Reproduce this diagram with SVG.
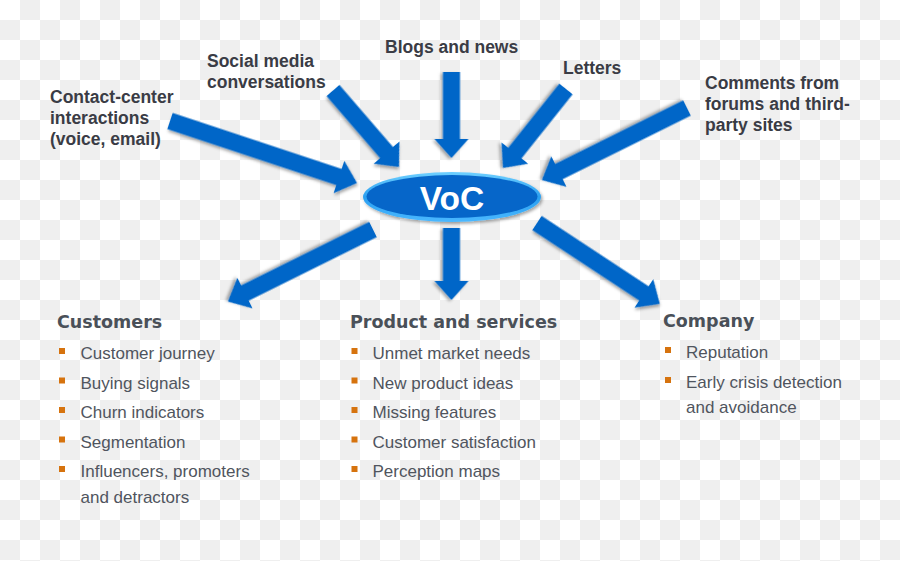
<svg xmlns="http://www.w3.org/2000/svg" width="900" height="561" viewBox="0 0 900 561">
<defs>
<pattern id="chk" width="40" height="40" patternUnits="userSpaceOnUse">
<rect width="40" height="40" fill="#ffffff"/>
<rect x="20" y="0" width="20" height="20" fill="#efefef"/>
<rect x="0" y="20" width="20" height="20" fill="#efefef"/>
</pattern>
<filter id="sh" x="-20%" y="-20%" width="140%" height="140%">
<feDropShadow dx="1.5" dy="2" stdDeviation="1.5" flood-color="#000" flood-opacity="0.35"/>
</filter>
<linearGradient id="rim" x1="0" y1="0" x2="0" y2="1">
<stop offset="0" stop-color="#6fd0ff"/>
<stop offset="0.5" stop-color="#2a9ff0"/>
<stop offset="1" stop-color="#4ab8ff"/>
</linearGradient>
</defs>
<style>
.arrow{fill:#0566c8;filter:url(#sh);}
.lbl{font-family:"Liberation Sans",Arial,sans-serif;font-weight:bold;font-size:17.5px;fill:#3a3c45;}
.hd{font-family:"DejaVu Sans",Verdana,sans-serif;font-weight:bold;font-size:17.5px;fill:#4a5058;}
.it{font-family:"Liberation Sans",Arial,sans-serif;font-size:17px;fill:#50555e;}
.bul{fill:#d6730e;}
</style>
<rect width="900" height="561" fill="url(#chk)"/>

<g id="connectors">
<polygon class="arrow" transform="translate(170,121) rotate(18.34)" points="0,-8.5 178,-8.5 178,-17 197,0 178,17 178,8.5 0,8.5"/>
<polygon class="arrow" transform="translate(333,90.5) rotate(49.2)" points="0,-8.5 82,-8.5 82,-17 101,0 82,17 82,8.5 0,8.5"/>
<polygon class="arrow" transform="translate(451.5,72) rotate(90)" points="0,-8.5 67,-8.5 67,-17 86,0 67,17 67,8.5 0,8.5"/>
<polygon class="arrow" transform="translate(566,89) rotate(128.57)" points="0,-8.5 82,-8.5 82,-17 101,0 82,17 82,8.5 0,8.5"/>
<polygon class="arrow" transform="translate(687,108) rotate(153.59)" points="0,-8.5 143,-8.5 143,-17 162,0 143,17 143,8.5 0,8.5"/>
<polygon class="arrow" transform="translate(373,229.5) rotate(153.59)" points="0,-8.5 143,-8.5 143,-17 162,0 143,17 143,8.5 0,8.5"/>
<polygon class="arrow" transform="translate(451.5,228) rotate(90)" points="0,-8.5 53,-8.5 53,-17 72,0 53,17 53,8.5 0,8.5"/>
<polygon class="arrow" transform="translate(537,223) rotate(33.37)" points="0,-8.5 128,-8.5 128,-17 147,0 128,17 128,8.5 0,8.5"/>
</g>

<g id="voc">
<ellipse cx="452" cy="197" rx="89" ry="25" fill="url(#rim)" filter="url(#sh)"/>
<ellipse cx="452" cy="196.5" rx="85.5" ry="21.5" fill="#0666c9"/>
<text x="452" y="210" text-anchor="middle" font-family="Liberation Sans,Arial,sans-serif" font-size="33.5" font-weight="bold" fill="#ffffff">VoC</text>
</g>

<g id="src-contact">
<text class="lbl" x="50" y="103">Contact-center</text>
<text class="lbl" x="50" y="124">interactions</text>
<text class="lbl" x="50" y="145">(voice, email)</text>
</g>
<g id="src-social">
<text class="lbl" x="207" y="67">Social media</text>
<text class="lbl" x="207" y="88">conversations</text>
</g>
<g id="src-blogs">
<text class="lbl" x="385" y="53">Blogs and news</text>
</g>
<g id="src-letters">
<text class="lbl" x="563" y="74">Letters</text>
</g>
<g id="src-comments">
<text class="lbl" x="705" y="89">Comments from</text>
<text class="lbl" x="705" y="110">forums and third-</text>
<text class="lbl" x="705" y="131">party sites</text>
</g>

<g id="customers">
<text class="hd" x="57" y="328">Customers</text>
<rect class="bul" x="59" y="348" width="6" height="6"/>
<text class="it" x="80.5" y="359">Customer journey</text>
<rect class="bul" x="59" y="377.5" width="6" height="6"/>
<text class="it" x="80.5" y="388.5">Buying signals</text>
<rect class="bul" x="59" y="407" width="6" height="6"/>
<text class="it" x="80.5" y="418">Churn indicators</text>
<rect class="bul" x="59" y="436.5" width="6" height="6"/>
<text class="it" x="80.5" y="447.5">Segmentation</text>
<rect class="bul" x="59" y="466" width="6" height="6"/>
<text class="it" x="80.5" y="477">Influencers, promoters</text>
<text class="it" x="80.5" y="502.5">and detractors</text>
</g>

<g id="products">
<text class="hd" x="350" y="328">Product and services</text>
<rect class="bul" x="351.5" y="348" width="6" height="6"/>
<text class="it" x="372.5" y="359">Unmet market needs</text>
<rect class="bul" x="351.5" y="377.5" width="6" height="6"/>
<text class="it" x="372.5" y="388.5">New product ideas</text>
<rect class="bul" x="351.5" y="407" width="6" height="6"/>
<text class="it" x="372.5" y="418">Missing features</text>
<rect class="bul" x="351.5" y="436.5" width="6" height="6"/>
<text class="it" x="372.5" y="447.5">Customer satisfaction</text>
<rect class="bul" x="351.5" y="466" width="6" height="6"/>
<text class="it" x="372.5" y="477">Perception maps</text>
</g>

<g id="company">
<text class="hd" x="663" y="327">Company</text>
<rect class="bul" x="665" y="347" width="6" height="6"/>
<text class="it" x="686" y="358">Reputation</text>
<rect class="bul" x="665" y="377" width="6" height="6"/>
<text class="it" x="686" y="388">Early crisis detection</text>
<text class="it" x="686" y="412.5">and avoidance</text>
</g>
</svg>
